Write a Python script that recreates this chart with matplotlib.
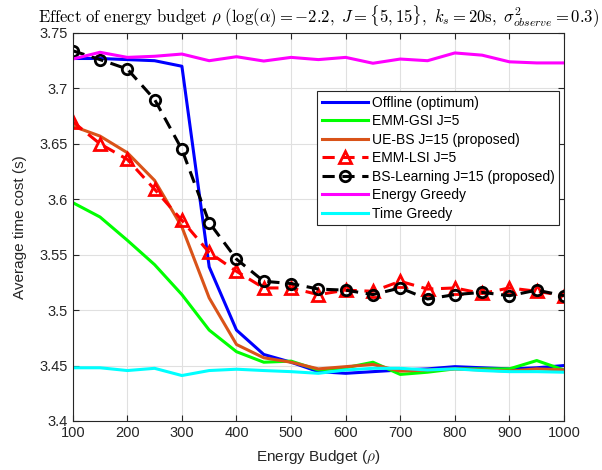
import matplotlib
matplotlib.use("Agg")
import matplotlib.pyplot as plt

plt.rcParams['font.family'] = ['Liberation Sans', 'DejaVu Sans']
plt.rcParams['mathtext.fontset'] = 'cm'

budget = [100, 150, 200, 250, 300, 350, 400, 450, 500, 550,
          600, 650, 700, 750, 800, 850, 900, 950, 1000]

offline = [3.727, 3.727, 3.726, 3.725, 3.720, 3.539, 3.482, 3.460, 3.453, 3.4445,
           3.443, 3.4445, 3.446, 3.447, 3.449, 3.448, 3.447, 3.448, 3.450]
emm_gsi = [3.597, 3.584, 3.563, 3.541, 3.514, 3.482, 3.4625, 3.453, 3.454, 3.446,
           3.448, 3.453, 3.442, 3.444, 3.447, 3.447, 3.447, 3.4545, 3.446]
ue_bs = [3.666, 3.657, 3.642, 3.617, 3.575, 3.511, 3.469, 3.457, 3.453, 3.447,
         3.449, 3.451, 3.445, 3.446, 3.447, 3.446, 3.445, 3.447, 3.446]
emm_lsi = [3.670, 3.650, 3.636, 3.609, 3.581, 3.552, 3.535, 3.520, 3.520, 3.514,
           3.518, 3.517, 3.526, 3.519, 3.520, 3.515, 3.520, 3.517, 3.513]
bs_learning = [3.734, 3.726, 3.7175, 3.690, 3.645, 3.579, 3.546, 3.526, 3.524, 3.519,
               3.518, 3.514, 3.520, 3.510, 3.514, 3.516, 3.513, 3.518, 3.513]
energy_greedy = [3.7265, 3.7326, 3.728, 3.729, 3.731, 3.725, 3.7286, 3.7247, 3.728, 3.726,
                 3.728, 3.7227, 3.7265, 3.725, 3.732, 3.730, 3.724, 3.723, 3.723]
time_greedy = [3.448, 3.448, 3.4455, 3.4475, 3.441, 3.4455, 3.4467, 3.4455, 3.4445, 3.443,
               3.446, 3.4475, 3.4475, 3.446, 3.447, 3.4455, 3.4445, 3.4445, 3.444]

x_ticks = [100, 200, 300, 400, 500, 600, 700, 800, 900, 1000]
y_ticks = [3.4, 3.45, 3.5, 3.55, 3.6, 3.65, 3.7, 3.75]
y_tick_labels = ['3.4', '3.45', '3.5', '3.55', '3.6', '3.65', '3.7', '3.75']

fig = plt.figure(figsize=(6.02, 4.70), dpi=100)
ax = fig.add_axes([0.1208, 0.1043, 0.9369 - 0.1208, 0.9298 - 0.1043])

lw = 2.2
ax.plot(budget, offline, color='#0000ff', lw=lw, label='Offline (optimum)')
ax.plot(budget, emm_gsi, color='#00ff00', lw=lw, label='EMM-GSI J=5')
ax.plot(budget, ue_bs, color='#d95319', lw=lw, label='UE-BS J=15 (proposed)')
ax.plot(budget, emm_lsi, color='#ff0000', lw=lw, ls=(0, (4, 2.5)), marker='^',
        ms=9, mfc='none', mec='#ff0000', mew=2, label='EMM-LSI J=5')
ax.plot(budget, bs_learning, color='black', lw=lw, ls=(0, (4, 2.5)), marker='o',
        ms=7.5, mfc='none', mec='black', mew=2, label='BS-Learning J=15 (proposed)')
ax.plot(budget, energy_greedy, color='#ff00ff', lw=lw, label='Energy Greedy')
ax.plot(budget, time_greedy, color='#00ffff', lw=lw, label='Time Greedy')

ax.set_xlim(100, 1000)
ax.set_ylim(3.4, 3.75)
ax.set_xticks(x_ticks)
ax.set_yticks(y_ticks)
ax.set_yticklabels(y_tick_labels)
ax.tick_params(direction='in', labelsize=10.5, top=True, right=True, length=4,
               colors='#262626', width=0.8)
ax.grid(True, color='#e0e0e0', lw=0.8)
ax.set_axisbelow(True)
for s in ax.spines.values():
    s.set_color('#262626')
    s.set_linewidth(0.8)

ax.set_xlabel(r'Energy Budget ($\rho$)', fontsize=11, color='#262626', labelpad=6)
ax.set_ylabel('Average time cost (s)', fontsize=11, color='#262626', labelpad=9)
ax.set_title(r'$\mathrm{Effect\ of\ energy\ budget}\ \rho\ (\log(\alpha)=-2.2,\ '
             r'J=\{5,15\},\ k_s=20\mathrm{s},\ \sigma^2_{observe}=0.3)$',
             fontsize=12, pad=8)

leg = ax.legend(loc='upper left', bbox_to_anchor=(0.497, 0.8505), fontsize=10,
                frameon=True, fancybox=False, edgecolor='#262626', framealpha=1,
                handlelength=3.3, labelspacing=0.32, borderpad=0.35,
                handletextpad=0.3, borderaxespad=0)
leg.get_frame().set_linewidth(0.8)

fig.savefig('out.png', dpi=100)
